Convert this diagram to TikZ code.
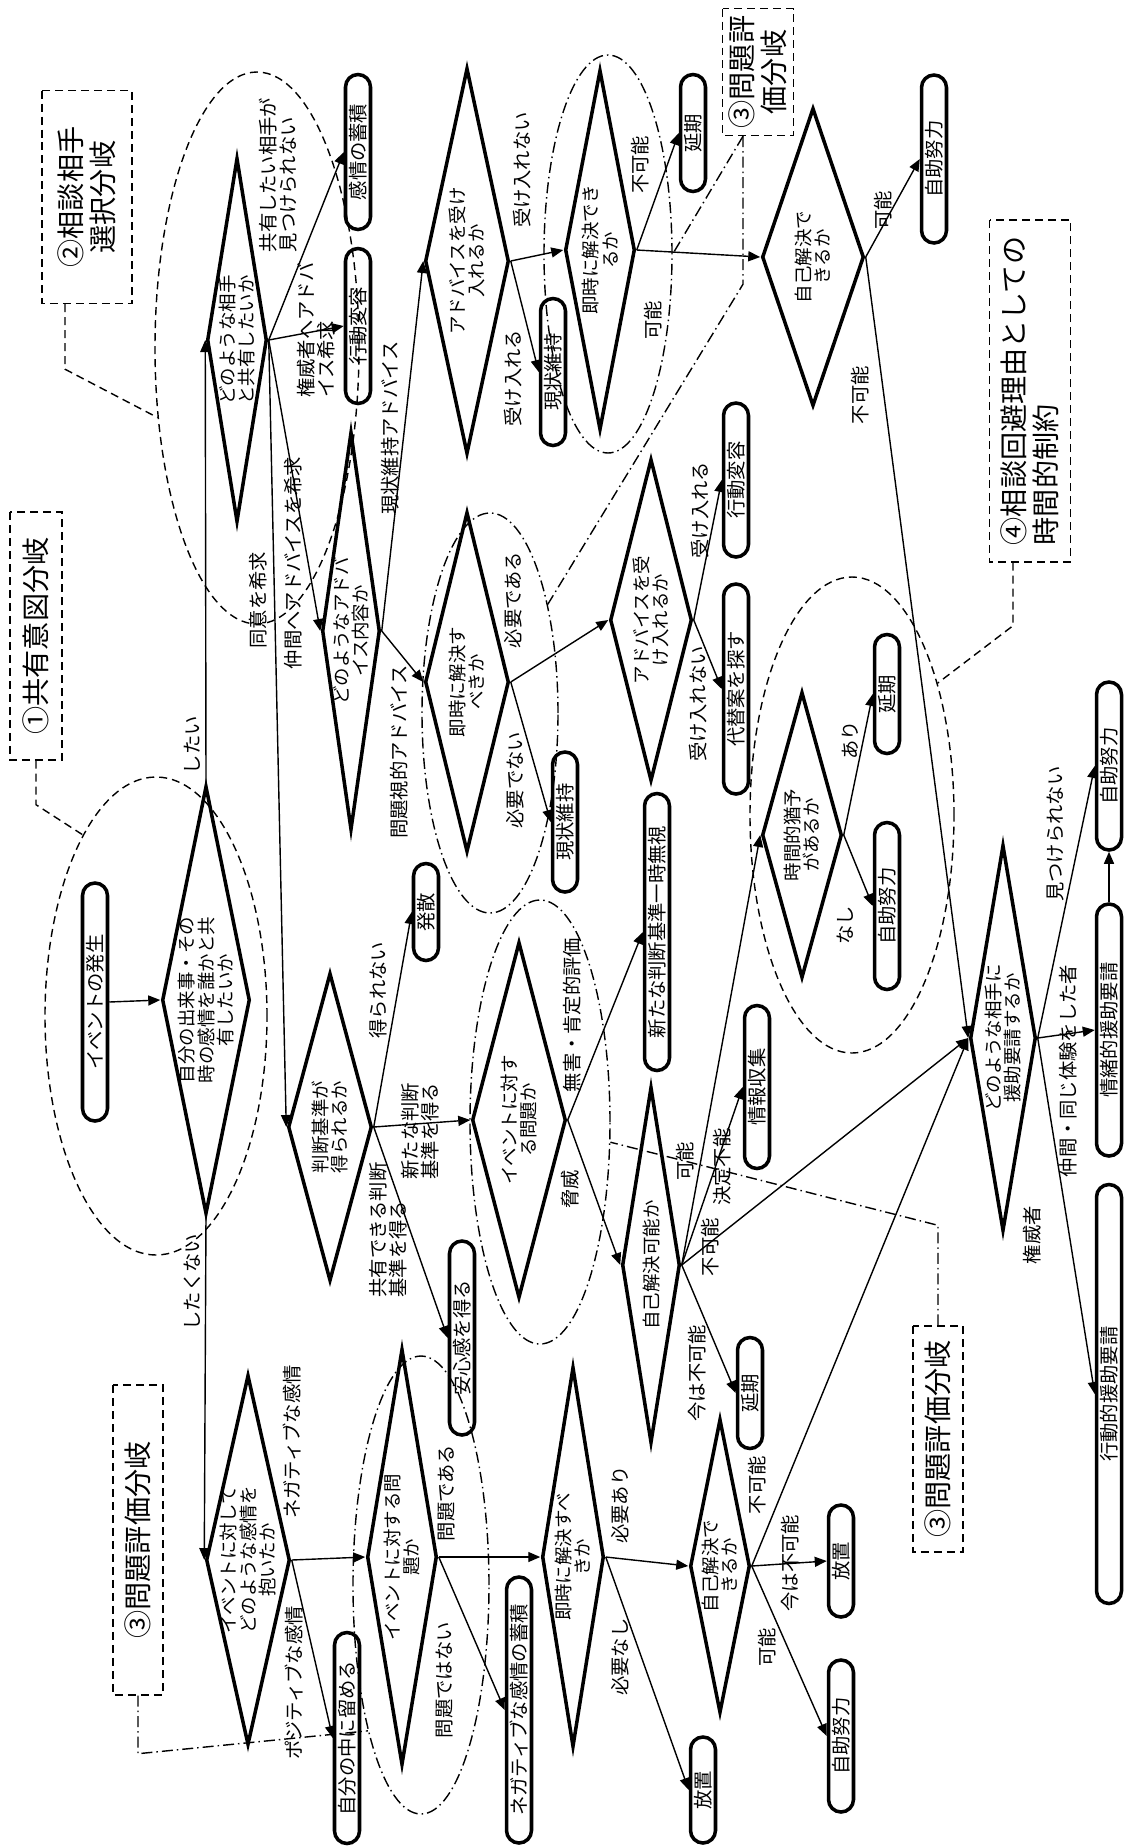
\documentclass[tikz,border=0pt]{standalone}
\usepackage{xcolor}
\usepackage{fontspec}
\setmainfont{Noto Sans CJK JP}
\usepackage{tikz}
\usetikzlibrary{shapes.geometric, shapes.misc, arrows.meta}

\newcommand{\ptxt}{\fontsize{11}{11.2}\selectfont}
\newcommand{\ltxt}{\fontsize{10.5}{11}\selectfont}
\newcommand{\gtxt}{\fontsize{16}{18.5}\selectfont}

\tikzset{
  fin/.style={draw, line width=2pt, rounded rectangle, rotate=90, inner sep=0pt,
    minimum height=0.5cm, minimum width=#1*0.02cm, font=\ptxt},
  los/.style 2 args={draw, line width=2pt, diamond, rotate=90, inner sep=0pt,
    minimum width=#1*0.04cm, minimum height=#2*0.04cm},
  lostxt/.style={rotate=90, align=center, inner sep=0pt, font=\ltxt},
  etiq/.style={rotate=90, align=left, inner sep=0pt, font=\ptxt},
  fl/.style={-{Triangle[length=0.24cm,width=0.2cm]}, line width=0.8pt},
  tiret/.style={line width=0.8pt, dash pattern=on 0.16cm off 0.1cm},
  mixte/.style={line width=0.8pt, dash pattern=on 0.22cm off 0.08cm on 0.03cm off 0.08cm},
  groupe/.style 2 args={draw, ellipse, inner sep=0pt,
    minimum width=#1*0.02cm, minimum height=#2*0.02cm},
  cadre/.style 2 args={draw, tiret, rotate=90, inner sep=0pt, align=center, font=\gtxt,
    minimum width=#1*0.02cm, minimum height=#2*0.02cm}
}

\begin{document}
\begin{tikzpicture}[x=0.02cm, y=-0.02cm]
  \useasboundingbox (0,0) rectangle (1125,1847);

  % Losanges
  \node[los={214}{44}] (qPartage) at (206,1000) {};
  \node[los={182}{30}] (qQui) at (237,340) {};
  \node[los={154}{42}] (qCritere) at (330,1127) {};
  \node[los={199}{29}] (qConseil) at (351,631) {};
  \node[los={170}{42}] (qUrgent1) at (467,682) {};
  \node[los={193}{42}] (qAccepte1) at (467,261) {};
  \node[los={180}{35}] (qImmediat) at (600,250) {};
  \node[los={149}{51}] (qSeul1) at (813,257) {};
  \node[los={161}{41}] (qAccepte2) at (651,620) {};
  \node[los={178}{47}] (qProbleme1) at (519,1120) {};
  \node[los={178}{29}] (qSeul2) at (651,1265) {};
  \node[los={143}{40}] (qDelai) at (802,835) {};
  \node[los={193}{33}] (qAide) at (1003,1038) {};
  \node[los={185}{42}] (qEmotion) at (248,1560) {};
  \node[los={208}{35}] (qProbleme2) at (402,1557) {};
  \node[los={190}{31}] (qUrgent2) at (573,1557) {};
  \node[los={147}{30}] (qSeul3) at (720,1566) {};

  % Textes des losanges
  \node[lostxt] (tPartage) at (qPartage) {自分の出来事・その\\時の感情を誰かと共\\有したいか};
  \node[lostxt] (tQui) at (qQui) {どのような相手\\と共有したいか};
  \node[lostxt] (tCritere) at (qCritere) {判断基準が\\得られるか};
  \node[lostxt] (tConseil) at (qConseil) {どのようなアドバ\\イス内容か};
  \node[lostxt] (tUrgent1) at (qUrgent1) {即時に解決す\\べきか};
  \node[lostxt] (tAccepte1) at (qAccepte1) {アドバイスを受け\\入れるか};
  \node[lostxt] (tImmediat) at (qImmediat) {即時に解決でき\\るか};
  \node[lostxt] (tSeul1) at (qSeul1) {自己解決で\\きるか};
  \node[lostxt] (tAccepte2) at (qAccepte2) {アドバイスを受\\け入れるか};
  \node[lostxt] (tProbleme1) at (qProbleme1) {イベントに対す\\る問題か};
  \node[lostxt] (tSeul2) at (qSeul2) {自己解決可能か};
  \node[lostxt] (tDelai) at (qDelai) {時間的猶予\\があるか};
  \node[lostxt] (tAide) at (qAide) {どのような相手に\\援助要請するか};
  \node[lostxt] (tEmotion) at (qEmotion) {イベントに対して\\どのような感情を\\抱いたか};
  \node[lostxt] (tProbleme2) at (qProbleme2) {イベントに対する問\\題か};
  \node[lostxt] (tUrgent2) at (qUrgent2) {即時に解決すべ\\きか};
  \node[lostxt] (tSeul3) at (qSeul3) {自己解決で\\きるか};

  % Issues
  \node[fin=238] (evenement) at (95,1002) {イベントの発生};
  \node[fin=155] (accum1) at (358,152) {感情の蓄積};
  \node[fin=155] (changement1) at (358,326) {行動変容};
  \node[fin=147] (statu1) at (553,372) {現状維持};
  \node[fin=117] (report1) at (693,133) {延期};
  \node[fin=168] (effort1) at (934,159) {自助努力};
  \node[fin=154] (changement2) at (736,480) {行動変容};
  \node[fin=210] (alternative) at (736,689) {代替案を探す};
  \node[fin=140] (statu2) at (565,822) {現状維持};
  \node[fin=97] (dispersion) at (426,912) {発散};
  \node[fin=277] (ignorer) at (657,932) {新たな判断基準一時無視};
  \node[fin=163] (info) at (757,1087) {情報収集};
  \node[fin=119] (report2) at (887,694) {延期};
  \node[fin=167] (effort2) at (887,906) {自助努力};
  \node[fin=168] (effort3) at (1109,766) {自助努力};
  \node[fin=252] (aideEmo) at (1109,1030) {情緒的援助要請};
  \node[fin=419] (aideAct) at (1109,1394) {行動的援助要請};
  \node[fin=194] (rassure) at (462,1338) {安心感を得る};
  \node[fin=111] (report3) at (750,1393) {延期};
  \node[fin=211] (garder) at (347,1738) {自分の中に留める};
  \node[fin=266] (accum2) at (519,1710) {ネガティブな感情の蓄積};
  \node[fin=106] (laisser1) at (703,1790) {放置};
  \node[fin=112] (laisser2) at (841,1561) {放置};
  \node[fin=152] (effort4) at (841,1736) {自助努力};

  % Flèches
  \draw[fl] (evenement.south) -- (qPartage.north);
  \draw[fl] (qPartage.east) -- (qQui.north);
  \draw[fl] (qPartage.west) -- (qEmotion.north);
  \draw[fl] (qQui.south) -- (accum1.north);
  \draw[fl] (qQui.south) -- (changement1.north);
  \draw[fl] (qQui.south) -- (qConseil.north);
  \draw[fl] (qQui.south) -- (qCritere.north);
  \draw[fl] (qConseil.south) -- (qAccepte1.north);
  \draw[fl] (qConseil.south) -- (qUrgent1.north);
  \draw[fl] (qAccepte1.south) -- (statu1.north);
  \draw[fl] (qAccepte1.south) -- (qImmediat.north);
  \draw[fl] (qImmediat.south) -- (report1.north);
  \draw[fl] (qImmediat.south) -- (qSeul1.north);
  \draw[fl] (qSeul1.south) -- (effort1.north);
  \draw[fl] (qSeul1.south) -- (qAide.north);
  \draw[fl] (qUrgent1.south) -- (qAccepte2.north);
  \draw[fl] (qUrgent1.south) -- (statu2.north);
  \draw[fl] (qAccepte2.south) -- (changement2.north);
  \draw[fl] (qAccepte2.south) -- (alternative.north);
  \draw[fl] (qCritere.south) -- (dispersion.north);
  \draw[fl] (qCritere.south) -- (qProbleme1.north);
  \draw[fl] (qCritere.south) -- (rassure.north);
  \draw[fl] (qProbleme1.south) -- (ignorer.north);
  \draw[fl] (qProbleme1.south) -- (qSeul2.north);
  \draw[fl] (qSeul2.south) -- (qDelai.north);
  \draw[fl] (qSeul2.south) -- (info.north);
  \draw[fl] (qSeul2.south) -- (qAide.north);
  \draw[fl] (qSeul2.south) -- (report3.north);
  \draw[fl] (qDelai.south) -- (report2.north);
  \draw[fl] (qDelai.south) -- (effort2.north);
  \draw[fl] (qAide.south) -- (effort3.north);
  \draw[fl] (qAide.south) -- (aideEmo.north);
  \draw[fl] (qAide.south) -- (aideAct.north);
  \draw[fl] (aideEmo.east) -- (effort3.west);
  \draw[fl] (qEmotion.south) -- (qProbleme2.north);
  \draw[fl] (qEmotion.south) -- (garder.north);
  \draw[fl] (qProbleme2.south) -- (qUrgent2.north);
  \draw[fl] (qProbleme2.south) -- (accum2.north);
  \draw[fl] (qUrgent2.south) -- (qSeul3.north);
  \draw[fl] (qUrgent2.south) -- (laisser1.north);
  \draw[fl] (qSeul3.south) -- (laisser2.north);
  \draw[fl] (qSeul3.south) -- (effort4.north);
  \draw[fl] (qSeul3.south) -- (qAide.north);

  % Etiquettes
  \node[etiq] (e1) at (192,745) {したい};
  \node[etiq] (e2) at (192,1282) {したくない};
  \node[etiq] (e3) at (278,175) {共有したい相手が\\見つけられない};
  \node[etiq] (e4) at (316,330) {権威者へアドバ\\イス希求};
  \node[etiq] (e5) at (293,563) {仲間へアドバイスを希求};
  \node[etiq] (e6) at (258,600) {同意を希求};
  \node[etiq] (e7) at (390,428) {現状維持アドバイス};
  \node[etiq] (e8) at (399,752) {問題視的アドバイス};
  \node[etiq] (e9) at (513,378) {受け入れる};
  \node[etiq] (e10) at (522,170) {受け入れない};
  \node[etiq] (e11) at (640,165) {不可能};
  \node[etiq] (e12) at (653,320) {可能};
  \node[etiq] (e13) at (883,210) {可能};
  \node[etiq] (e14) at (860,395) {不可能};
  \node[etiq] (e15) at (513,600) {必要である};
  \node[etiq] (e16) at (515,780) {必要でない};
  \node[etiq] (e17) at (700,510) {受け入れる};
  \node[etiq] (e18) at (698,704) {受け入れない};
  \node[etiq] (e19) at (378,990) {得られない};
  \node[etiq] (e20) at (420,1131) {新たな判断\\基準を得る};
  \node[etiq] (e21) at (388,1230) {共有できる判断\\基準を得る};
  \node[etiq] (e22) at (572,1015) {無害・肯定的評価};
  \node[etiq] (e23) at (570,1189) {脅威};
  \node[etiq] (e24) at (685,1161) {可能};
  \node[etiq] (e25) at (722,1167) {決定不能};
  \node[etiq] (e26) at (710,1247) {不可能};
  \node[etiq] (e27) at (697,1373) {今は不可能};
  \node[etiq] (e28) at (292,1442) {ネガティブな感情};
  \node[etiq] (e29) at (294,1683) {ポジティブな感情};
  \node[etiq] (e30) at (447,1493) {問題である};
  \node[etiq] (e31) at (445,1680) {問題ではない};
  \node[etiq] (e32) at (620,1505) {必要あり};
  \node[etiq] (e33) at (620,1657) {必要なし};
  \node[etiq] (e34) at (790,1563) {今は不可能};
  \node[etiq] (e35) at (767,1647) {可能};
  \node[etiq] (e36) at (757,1485) {不可能};
  \node[etiq] (e37) at (850,740) {あり};
  \node[etiq] (e38) at (845,925) {なし};
  \node[etiq] (e39) at (1068,1071) {仲間・同じ体験をした者};
  \node[etiq] (e40) at (1055,834) {見つけられない};
  \node[etiq] (e41) at (1032,1235) {権威者};

  % Groupes
  \node[groupe={222}{478}, tiret] (g1) at (156,1016) {};
  \node[groupe={204}{552}, tiret] (g2) at (257,348) {};
  \node[groupe={136}{400}, mixte] (g3) at (490,713) {};
  \node[groupe={128}{398}, mixte] (g4) at (608,254) {};
  \node[groupe={140}{444}, mixte] (g5) at (540,1122) {};
  \node[groupe={136}{458}, mixte] (g6) at (421,1585) {};
  \node[groupe={204}{476}, tiret] (g7) at (852,815) {};

  % Cadres
  \node[cadre={248}{52}] (cadre1) at (36,636) {①共有意図分岐};
  \node[cadre={213}{90}] (cadre2) at (87,197) {②相談相手\\選択分岐};
  \node[cadre={127}{71}] (cadre3) at (758,72) {③問題評\\価分岐};
  \node[cadre={342}{81}, align=left] (cadre4) at (1030,391) {④相談回避理由としての\\時間的制約};
  \node[cadre={226}{50}] (cadre5) at (938,1439) {③問題評価分岐};
  \node[cadre={310}{50}] (cadre6) at (138,1540) {③問題評価分岐};

  % Renvois
  \draw[tiret] (cadre1.west) -- ++(0,44) -- (g1.112);
  \draw[tiret] ([xshift=-0.44cm]cadre2.west) -- ++(0,65) -- (g2.215);
  \draw[mixte] ([xshift=-0.3cm]cadre3.west) -- ++(0,148) -- (g3.62);
  \draw[mixte] ([xshift=-0.3cm]cadre3.west) -- (g4.0);
  \draw[tiret] ([xshift=-0.34cm]cadre4.west) -- ++(0,63) -- (g7.57);
  \draw[mixte] (cadre5.east) -- ++(0,-100) -- (g5.344);
  \draw[mixte] (cadre6.west) -- ++(0,58) -- (g6.250);
\end{tikzpicture}
\end{document}
